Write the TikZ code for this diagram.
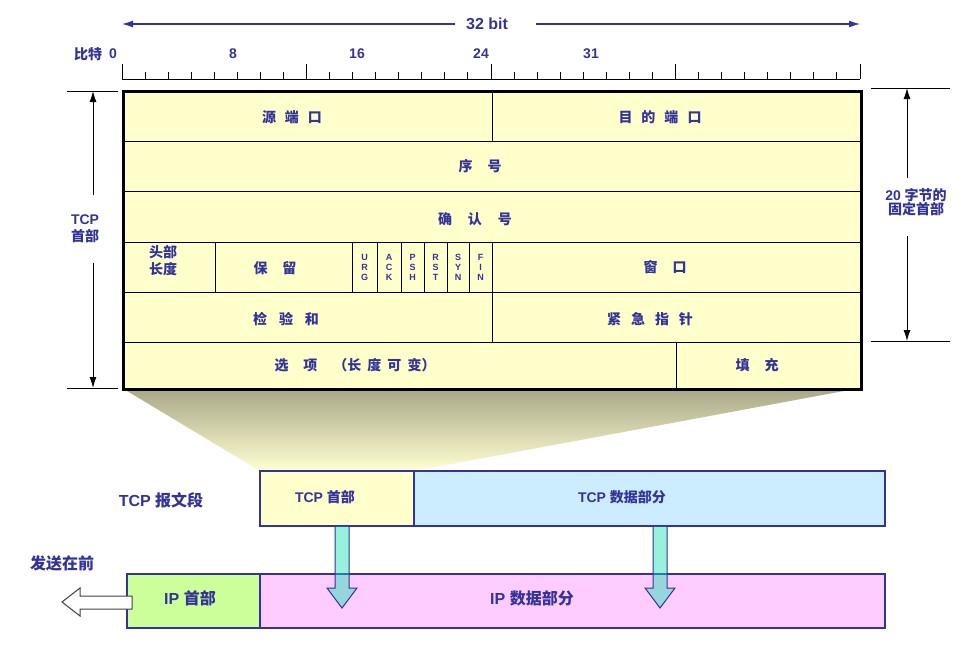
\documentclass[tikz,border=0pt]{standalone}
\usepackage{fontspec}
\setmainfont{Liberation Sans}
\newfontfamily\zh{Noto Sans CJK SC}
\usetikzlibrary{arrows.meta,calc}
\definecolor{navy}{HTML}{333399}
\definecolor{cellyellow}{HTML}{FFFFCC}
\definecolor{tcpblue}{HTML}{CCECFF}
\definecolor{ipgreen}{HTML}{CCFF99}
\definecolor{ippink}{HTML}{FFCCFF}
\definecolor{aqua}{RGB}{11,225,174}
\definecolor{shadetop}{RGB}{168,166,134}
\definecolor{shademid}{RGB}{228,226,178}
\definecolor{shadebot}{RGB}{255,255,212}
\newcommand\gp[1]{\hspace{#1pt}}
\begin{document}
\begin{tikzpicture}[x=1pt,y=-1pt,
  txt/.style={text=navy,font=\bfseries\fontsize{14}{16}\selectfont,inner sep=0pt,align=center},
  big/.style={txt,font=\bfseries\fontsize{16}{18}\selectfont},
  zl/.style={text=navy,font=\zh\bfseries\fontsize{14}{17}\selectfont,inner sep=0pt,align=center},
  cell/.style={draw=black,line width=1pt,fill=cellyellow,anchor=north west,inner sep=0pt,outer sep=0pt},
  flag/.style={cell,text=navy,font=\bfseries\fontsize{9}{10}\selectfont,align=center,minimum height=50pt},
  box/.style={draw=navy,line width=2.5pt,anchor=north west,inner sep=0pt,outer sep=0pt},
  dimline/.style={black,line width=1pt},
  dimarrow/.style={black,line width=1pt,-{Latex[length=11pt,width=7pt]}},
  bitarrow/.style={navy,line width=1.2pt,-{Latex[length=11pt,width=7pt]}},
  blockarrow/.style={draw=navy,line width=1pt,fill=aqua,fill opacity=0.43},
  hollowarrow/.style={draw=black!75,line width=1pt,fill=white},
]
\useasboundingbox (0,0) rectangle (966,646);

% ---------- 32 bit arrow ----------
\node[txt,font=\bfseries\fontsize{16}{18}\selectfont] (bits) at (487,24) {32 bit};
\coordinate (bl) at (122,24);
\coordinate (br) at (860,24);
\coordinate (bla) at (455,24);
\coordinate (bra) at (536,24);
\draw[bitarrow] (bla) -- (bl);
\draw[bitarrow] (bra) -- (br);

% ---------- ruler ----------
\node[zl] (bitlbl) at (88,54) {比特};
\node[txt] (b0) at (113,54) {0};
\node[txt] (b8) at (233,54) {8};
\node[txt] (b16) at (357,54) {16};
\node[txt] (b24) at (481,54) {24};
\node[txt] (b31) at (591,54) {31};
\draw[line width=1pt] (122,79) -- (860,79);
\foreach \i in {0,...,32}{
  \pgfmathsetmacro\xx{122+\i*23.0625}
  \pgfmathtruncatemacro\mm{mod(\i,8)}
  \ifnum\mm=0
    \draw[line width=1pt] (\xx,79) -- (\xx,64);
  \else
    \draw[line width=1pt] (\xx,79) -- (\xx,72);
  \fi
}

% ---------- funnel shading ----------
\shade[top color=shadetop,middle color=shademid,bottom color=shadebot]
  (122,388) -- (860,388) -- (414,471) -- (260,471) -- cycle;

% ---------- header table ----------
\fill[black!70] (125,93) rectangle (863,391);
\node[cell,minimum width=370pt,minimum height=51pt] (csrc) at (122,90) {};
\node[cell,minimum width=368pt,minimum height=51pt] (cdst) at (492,90) {};
\node[cell,minimum width=738pt,minimum height=50pt] (cseq) at (122,141) {};
\node[cell,minimum width=738pt,minimum height=51pt] (cack) at (122,191) {};
\node[cell,minimum width=93pt,minimum height=50pt] (chl) at (122,242) {};
\node[cell,minimum width=137pt,minimum height=50pt] (crsv) at (215,242) {};
\node[flag,minimum width=25pt] (curg) at (352,242) {U\\R\\G};
\node[flag,minimum width=24pt] (cackf) at (377,242) {A\\C\\K};
\node[flag,minimum width=23pt] (cpsh) at (401,242) {P\\S\\H};
\node[flag,minimum width=23pt] (crst) at (424,242) {R\\S\\T};
\node[flag,minimum width=22pt] (csyn) at (447,242) {S\\Y\\N};
\node[flag,minimum width=23pt] (cfin) at (469,242) {F\\I\\N};
\node[cell,minimum width=368pt,minimum height=50pt] (cwin) at (492,242) {};
\node[cell,minimum width=370pt,minimum height=50pt] (cchk) at (122,292) {};
\node[cell,minimum width=368pt,minimum height=50pt] (curp) at (492,292) {};
\node[cell,minimum width=554pt,minimum height=46pt] (copt) at (122,342) {};
\node[cell,minimum width=184pt,minimum height=46pt] (cpad) at (676,342) {};
\node[draw=black,line width=3pt,minimum width=738pt,minimum height=298pt,anchor=north west,inner sep=0pt] (tbl) at (122,90) {};

% labels in table
\node[zl] (tsrc) at (292,117) {源\gp{9}端\gp{9}口};
\node[zl] (tdst) at (660,117) {目\gp{9}的\gp{9}端\gp{9}口};
\node[zl] (tseq) at (480,166) {序\gp{15}号};
\node[zl] (tack) at (475,219) {确\gp{16}认\gp{16}号};
\node[zl] (thl) at (163,261) {头部\\长度};
\node[zl] (trsv) at (275,268) {保\gp{15}留};
\node[zl] (twin) at (665,267) {窗\gp{15}口};
\node[zl] (tchk) at (286,319) {检\gp{12}验\gp{12}和};
\node[zl] (turp) at (650,319) {紧\gp{10}急\gp{10}指\gp{10}针};
\node[zl] (topt) at (355,365) {选\gp{15}项\gp{16}（长\gp{6}度\gp{6}可\gp{6}变）};
\node[zl] (tpad) at (757,365) {填\gp{15}充};

% ---------- left dimension ----------
\node[txt,font=\bfseries\fontsize{14}{17}\selectfont] (tcphl) at (85,229) {TCP\\{\zh 首部}};
\coordinate (lt1) at (67,91);  \coordinate (lt2) at (118,91);
\coordinate (lb1) at (67,388); \coordinate (lb2) at (118,388);
\coordinate (ltop) at (93,91); \coordinate (lbot) at (93,388);
\coordinate (lga) at (93,195); \coordinate (lgb) at (93,263);
\draw[dimline] (lt1) -- (lt2);
\draw[dimline] (lb1) -- (lb2);
\draw[dimarrow] (lga) -- (ltop);
\draw[dimarrow] (lgb) -- (lbot);

% ---------- right dimension ----------
\node[txt,font=\bfseries\fontsize{14}{14.5}\selectfont] (fixl) at (916,202) {20 {\zh 字节的}\\{\zh 固定首部}};
\coordinate (rt1) at (871,88);  \coordinate (rt2) at (950,88);
\coordinate (rb1) at (871,341); \coordinate (rb2) at (950,341);
\coordinate (rtop) at (907,88); \coordinate (rbot) at (907,341);
\coordinate (rga) at (907,178); \coordinate (rgb) at (907,236);
\draw[dimline] (rt1) -- (rt2);
\draw[dimline] (rb1) -- (rb2);
\draw[dimarrow] (rga) -- (rtop);
\draw[dimarrow] (rgb) -- (rbot);

% ---------- TCP segment / IP datagram ----------
\node[box,fill=cellyellow,minimum width=154pt,minimum height=55pt] (tcph) at (260,471) {};
\node[box,fill=tcpblue,minimum width=471pt,minimum height=55pt] (tcpd) at (414,471) {};
\node[box,fill=ipgreen,minimum width=133pt,minimum height=54pt] (iph) at (127,574) {};
\node[box,fill=ippink,minimum width=625pt,minimum height=54pt] (ipd) at (260,574) {};

\node[txt] (ltcph) at (325,497) {TCP {\zh 首部}};
\node[txt] (ltcpd) at (622,497) {TCP {\zh 数据部分}};
\node[big] (liph) at (190,598) {IP {\zh 首部}};
\node[big] (lipd) at (532,598) {IP {\zh 数据部分}};
\node[big] (lseg) at (161,500) {TCP {\zh 报文段}};
\node[big] (lsend) at (62,563) {\zh 发送在前};

% block arrows
\draw[blockarrow] (335,526) -- (335,588) -- (327,588) -- (342,608) -- (357,588) -- (349,588) -- (349,526) -- cycle;
\draw[blockarrow] (653,526) -- (653,588) -- (645,588) -- (660,608) -- (675,588) -- (667,588) -- (667,526) -- cycle;

% hollow arrow (sent first)
\draw[hollowarrow] (132,596) -- (80,596) -- (80,588) -- (62,602) -- (80,616) -- (80,609) -- (132,609) -- cycle;

\end{tikzpicture}
\end{document}
